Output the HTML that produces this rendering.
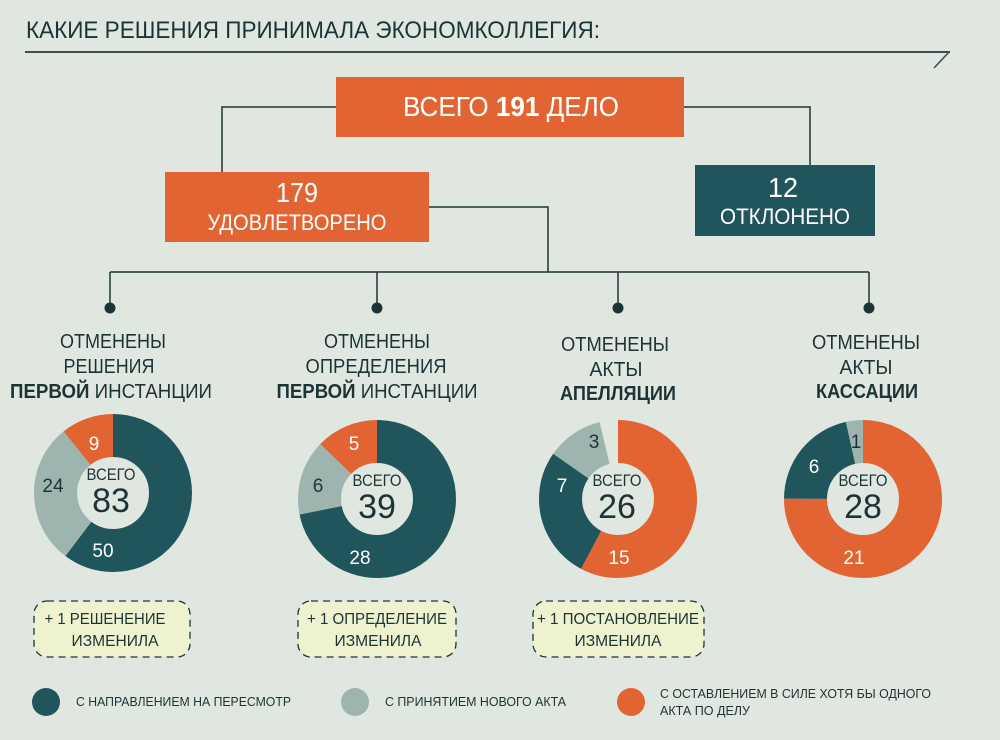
<!DOCTYPE html>
<html><head><meta charset="utf-8"><style>
html,body{margin:0;padding:0;background:#dfe7e0;}
svg{display:block;font-family:"Liberation Sans Narrow","Liberation Sans","DejaVu Sans Condensed",sans-serif;}
</style></head><body>
<svg width="1000" height="740" viewBox="0 0 1000 740" xmlns="http://www.w3.org/2000/svg">
<rect width="1000" height="740" fill="#dfe7e0"/>
<text x="26" y="38" font-size="24" fill="#1c3436" textLength="574" lengthAdjust="spacingAndGlyphs">КАКИЕ РЕШЕНИЯ ПРИНИМАЛА ЭКОНОМКОЛЛЕГИЯ:</text>
<line x1="25" y1="52" x2="950" y2="52" stroke="#3c4f50" stroke-width="2"/>
<line x1="949" y1="52" x2="934" y2="68" stroke="#3c4f50" stroke-width="1.5"/>
<g stroke="#1c3436" stroke-width="1.5" fill="none">
<polyline points="336,107 222,107 222,172"/>
<polyline points="684,107 810,107 810,165"/>
<polyline points="429,207 548,207 548,272"/>
<line x1="110" y1="272" x2="869" y2="272"/>
<line x1="110" y1="272" x2="110" y2="308"/>
<line x1="377" y1="272" x2="377" y2="308"/>
<line x1="618" y1="272" x2="618" y2="308"/>
<line x1="869" y1="272" x2="869" y2="308"/>
</g>
<g fill="#1c3436"><circle cx="110" cy="308" r="5.5"/><circle cx="377" cy="308" r="5.5"/><circle cx="618" cy="308" r="5.5"/><circle cx="869" cy="308" r="5.5"/></g>
<rect x="336" y="77" width="348" height="60" fill="#e26432"/>
<text x="511" y="116" font-size="28" fill="#fff" text-anchor="middle" textLength="216" lengthAdjust="spacingAndGlyphs">ВСЕГО <tspan font-weight="bold">191</tspan> ДЕЛО</text>
<rect x="165" y="172" width="264" height="70" fill="#e26432"/>
<text x="297" y="202" font-size="28" fill="#fff" text-anchor="middle" textLength="42" lengthAdjust="spacingAndGlyphs">179</text>
<text x="297" y="230" font-size="22" fill="#fff" text-anchor="middle" textLength="179" lengthAdjust="spacingAndGlyphs">УДОВЛЕТВОРЕНО</text>
<rect x="695" y="165" width="180" height="71" fill="#20555c"/>
<text x="783" y="197" font-size="28" fill="#fff" text-anchor="middle" textLength="30" lengthAdjust="spacingAndGlyphs">12</text>
<text x="785" y="224" font-size="22" fill="#fff" text-anchor="middle" textLength="130" lengthAdjust="spacingAndGlyphs">ОТКЛОНЕНО</text>
<g font-size="20" fill="#1c3436" text-anchor="middle" lengthAdjust="spacingAndGlyphs">
<text x="113" y="348" textLength="106" lengthAdjust="spacingAndGlyphs">ОТМЕНЕНЫ</text><text x="109" y="373" textLength="91" lengthAdjust="spacingAndGlyphs">РЕШЕНИЯ</text><text x="111" y="398" textLength="202" lengthAdjust="spacingAndGlyphs"><tspan font-weight="bold">ПЕРВОЙ</tspan> ИНСТАНЦИИ</text>
<text x="377" y="348" textLength="106" lengthAdjust="spacingAndGlyphs">ОТМЕНЕНЫ</text><text x="376" y="373" textLength="141" lengthAdjust="spacingAndGlyphs">ОПРЕДЕЛЕНИЯ</text><text x="377" y="398" textLength="201" lengthAdjust="spacingAndGlyphs"><tspan font-weight="bold">ПЕРВОЙ</tspan> ИНСТАНЦИИ</text>
<text x="615" y="351" textLength="108" lengthAdjust="spacingAndGlyphs">ОТМЕНЕНЫ</text><text x="616" y="376" textLength="53" lengthAdjust="spacingAndGlyphs">АКТЫ</text><text x="618" y="400" font-weight="bold" textLength="116" lengthAdjust="spacingAndGlyphs">АПЕЛЛЯЦИИ</text>
<text x="866" y="349" textLength="108" lengthAdjust="spacingAndGlyphs">ОТМЕНЕНЫ</text><text x="866" y="374" textLength="53" lengthAdjust="spacingAndGlyphs">АКТЫ</text><text x="867" y="398" font-weight="bold" textLength="102" lengthAdjust="spacingAndGlyphs">КАССАЦИИ</text>
</g>
<g fill="none" stroke-width="43">
<g transform="translate(113,493) rotate(-90)">
<circle r="57.5" stroke="#20555c" stroke-dasharray="217.64 400"/>
<circle r="57.5" stroke="#9eb4af" stroke-dasharray="104.47 400" stroke-dashoffset="-217.64"/>
<circle r="57.5" stroke="#e26432" stroke-dasharray="39.17 400" stroke-dashoffset="-322.11"/>
</g>
<g transform="translate(377,499) rotate(-90)">
<circle r="57.5" stroke="#20555c" stroke-dasharray="259.38 400"/>
<circle r="57.5" stroke="#9eb4af" stroke-dasharray="55.58 400" stroke-dashoffset="-259.38"/>
<circle r="57.5" stroke="#e26432" stroke-dasharray="46.32 400" stroke-dashoffset="-314.96"/>
</g>
<g transform="translate(618,499) rotate(-90)">
<circle r="57.5" stroke="#e26432" stroke-dasharray="208.43 400"/>
<circle r="57.5" stroke="#20555c" stroke-dasharray="97.27 400" stroke-dashoffset="-208.43"/>
<circle r="57.5" stroke="#9eb4af" stroke-dasharray="41.69 400" stroke-dashoffset="-305.70"/>
</g>
<g transform="translate(863,499) rotate(-90)">
<circle r="57.5" stroke="#e26432" stroke-dasharray="270.96 400"/>
<circle r="57.5" stroke="#20555c" stroke-dasharray="77.42 400" stroke-dashoffset="-270.96"/>
<circle r="57.5" stroke="#9eb4af" stroke-dasharray="12.90 400" stroke-dashoffset="-348.38"/>
</g>
</g>
<g font-size="19" text-anchor="middle">
<text x="94" y="450" fill="#fff">9</text><text x="53" y="492" fill="#1c3436">24</text><text x="103" y="557" fill="#fff">50</text>
<text x="354" y="450" fill="#fff">5</text><text x="318" y="492" fill="#1c3436">6</text><text x="360" y="564" fill="#fff">28</text>
<text x="594" y="448" fill="#1c3436">3</text><text x="562" y="492" fill="#fff">7</text><text x="619" y="564" fill="#fff">15</text>
<text x="856" y="448" fill="#1c3436">1</text><text x="814" y="473" fill="#fff">6</text><text x="854" y="564" fill="#fff">21</text>
</g>
<g fill="#1c3436" text-anchor="middle">
<text x="111" y="480" font-size="17" textLength="49" lengthAdjust="spacingAndGlyphs">ВСЕГО</text><text x="111" y="512" font-size="34">83</text>
<text x="377" y="486" font-size="17" textLength="49" lengthAdjust="spacingAndGlyphs">ВСЕГО</text><text x="377" y="518" font-size="34">39</text>
<text x="617" y="486" font-size="17" textLength="49" lengthAdjust="spacingAndGlyphs">ВСЕГО</text><text x="617" y="518" font-size="34">26</text>
<text x="863" y="486" font-size="17" textLength="49" lengthAdjust="spacingAndGlyphs">ВСЕГО</text><text x="863" y="518" font-size="34">28</text>
</g>
<g fill="#eff2cf" stroke="#1c3436" stroke-width="1.3" stroke-dasharray="7 5">
<rect x="34" y="601" width="156" height="56" rx="13"/>
<rect x="298" y="601" width="158" height="56" rx="13"/>
<rect x="533" y="601" width="171" height="56" rx="13"/>
</g>
<g font-size="16" fill="#1c3436" text-anchor="middle">
<text x="105" y="624" textLength="121" lengthAdjust="spacingAndGlyphs">+ 1 РЕШЕНЕНИЕ</text><text x="115" y="646" textLength="87" lengthAdjust="spacingAndGlyphs">ИЗМЕНИЛА</text>
<text x="377" y="624" textLength="140" lengthAdjust="spacingAndGlyphs">+ 1 ОПРЕДЕЛЕНИЕ</text><text x="378" y="646" textLength="87" lengthAdjust="spacingAndGlyphs">ИЗМЕНИЛА</text>
<text x="618" y="624" textLength="162" lengthAdjust="spacingAndGlyphs">+ 1 ПОСТАНОВЛЕНИЕ</text><text x="618" y="646" textLength="87" lengthAdjust="spacingAndGlyphs">ИЗМЕНИЛА</text>
</g>
<circle cx="46" cy="702" r="14" fill="#20555c"/>
<circle cx="355" cy="702" r="14" fill="#9eb4af"/>
<circle cx="631" cy="702" r="14" fill="#e26432"/>
<g font-size="13" fill="#1c3436">
<text x="76" y="706" textLength="215" lengthAdjust="spacingAndGlyphs">С НАПРАВЛЕНИЕМ НА ПЕРЕСМОТР</text>
<text x="385" y="706" textLength="181" lengthAdjust="spacingAndGlyphs">С ПРИНЯТИЕМ НОВОГО АКТА</text>
<text x="660" y="698" textLength="271" lengthAdjust="spacingAndGlyphs">С ОСТАВЛЕНИЕМ В СИЛЕ ХОТЯ БЫ ОДНОГО</text>
<text x="660" y="715" textLength="90" lengthAdjust="spacingAndGlyphs">АКТА ПО ДЕЛУ</text>
</g>
</svg>
</body></html>
